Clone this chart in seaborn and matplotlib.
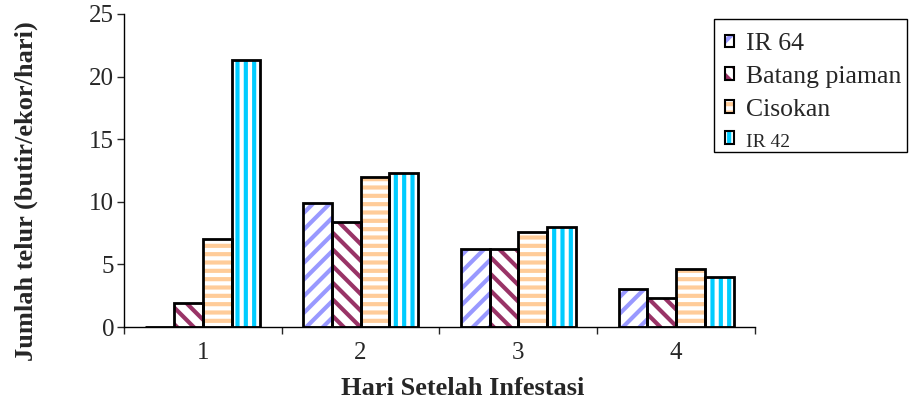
import matplotlib
matplotlib.use("Agg")
import matplotlib.pyplot as plt
import seaborn as sns
import pandas as pd
from matplotlib.patches import Patch, Rectangle

days = ["1", "2", "3", "4"]
varieties = ["IR 64", "Batang piaman", "Cisokan", "IR 42"]
ir64 = [0.0, 9.9, 6.2, 3.0]
batang = [1.9, 8.4, 6.2, 2.3]
cisokan = [7.0, 12.0, 7.6, 4.6]
ir42 = [21.3, 12.3, 8.0, 4.0]
yticks = [0, 5, 10, 15, 20, 25]

hatch_colors = ["#9999FF", "#993366", "#FFCC99", "#00CCFF"]
hatches = ["//", "\\\\", "--", "||"]

series = [ir64, batang, cisokan, ir42]
rows = []
for v, vals in zip(varieties, series):
    for d, val in zip(days, vals):
        rows.append({"Hari": d, "Varietas": v, "Nilai": val})
df = pd.DataFrame(rows)

sns.set_style("ticks")
plt.rcParams["font.family"] = ["Liberation Serif", "DejaVu Serif"]
plt.rcParams["hatch.linewidth"] = 3.0

fig = plt.figure(figsize=(9.12, 4.05), dpi=100)
ax = fig.add_axes([124 / 912, 1 - 327 / 405, (755 - 124) / 912, (327 - 14) / 405])

# hatch layer
sns.barplot(data=df, x="Hari", y="Nilai", hue="Varietas", order=days,
            hue_order=varieties, width=0.73, gap=0, ax=ax, legend=False,
            linewidth=0, errorbar=None)
for cont, hc, h in zip(ax.containers, hatch_colors, hatches):
    for p in cont:
        p.set_facecolor("white")
        p.set_edgecolor(hc)
        p.set_hatch(h)
        p.set_linewidth(0)
n_first = len(ax.containers)
# outline layer
sns.barplot(data=df, x="Hari", y="Nilai", hue="Varietas", order=days,
            hue_order=varieties, width=0.73, gap=0, ax=ax, legend=False,
            fill=False, linewidth=2, errorbar=None)
for cont in ax.containers[n_first:]:
    for p in cont:
        p.set_edgecolor("black")
        p.set_facecolor("none")
        p.set_linewidth(2)

ax.set_xlim(-0.5, 3.5)
ax.set_ylim(0, 25)
ax.set_yticks(yticks)
ax.set_yticklabels([str(t) for t in yticks], fontsize=18)
ax.set_xticks([-0.5, 0.5, 1.5, 2.5, 3.5])
ax.set_xticklabels([])
ax.set_xticks([0, 1, 2, 3], minor=True)
ax.set_xticklabels(days, minor=True, fontsize=18)
ax.tick_params(axis="x", which="minor", length=0, pad=11)
ax.tick_params(axis="x", which="major", length=5, width=1, direction="out")
ax.tick_params(axis="y", length=5, width=1, direction="out", pad=2)
for s in ["top", "right"]:
    ax.spines[s].set_visible(False)
for s in ["left", "bottom"]:
    ax.spines[s].set_linewidth(1)
    ax.spines[s].set_color("black")

ax.set_xlabel("Hari Setelah Infestasi", fontsize=19, fontweight="bold")
ax.xaxis.set_label_coords((462.5 - 124) / 631, (327 - 377) / 313)
ax.set_ylabel("Jumlah telur (butir/ekor/hari)", fontsize=19, fontweight="bold")
ax.yaxis.set_label_coords((38 - 124) / 631, (327 - 191) / 313)

# legend frame
W, H = 912, 405
fig.patches.append(Rectangle((714 / W, 1 - 152 / H), (907 - 714) / W, (152 - 19) / H,
                             transform=fig.transFigure, facecolor="white",
                             edgecolor="black", linewidth=1, zorder=0))

handles = []
for hc, h in zip(hatch_colors, hatches):
    hp = Patch(facecolor="white", edgecolor=hc, hatch=h, linewidth=0)
    op = Patch(facecolor="none", edgecolor="black", linewidth=1.5)
    handles.append((hp, op))
leg = fig.legend(handles, varieties, loc="upper left",
                 bbox_to_anchor=(725 / W, 1 - 33 / H), frameon=False,
                 fontsize=18.5, handlelength=0.36, handleheight=0.36,
                 handletextpad=0.45, labelspacing=0.42, borderpad=0,
                 borderaxespad=0)
leg.get_texts()[3].set_fontsize(14)

fig.savefig("out.png", dpi=100)
